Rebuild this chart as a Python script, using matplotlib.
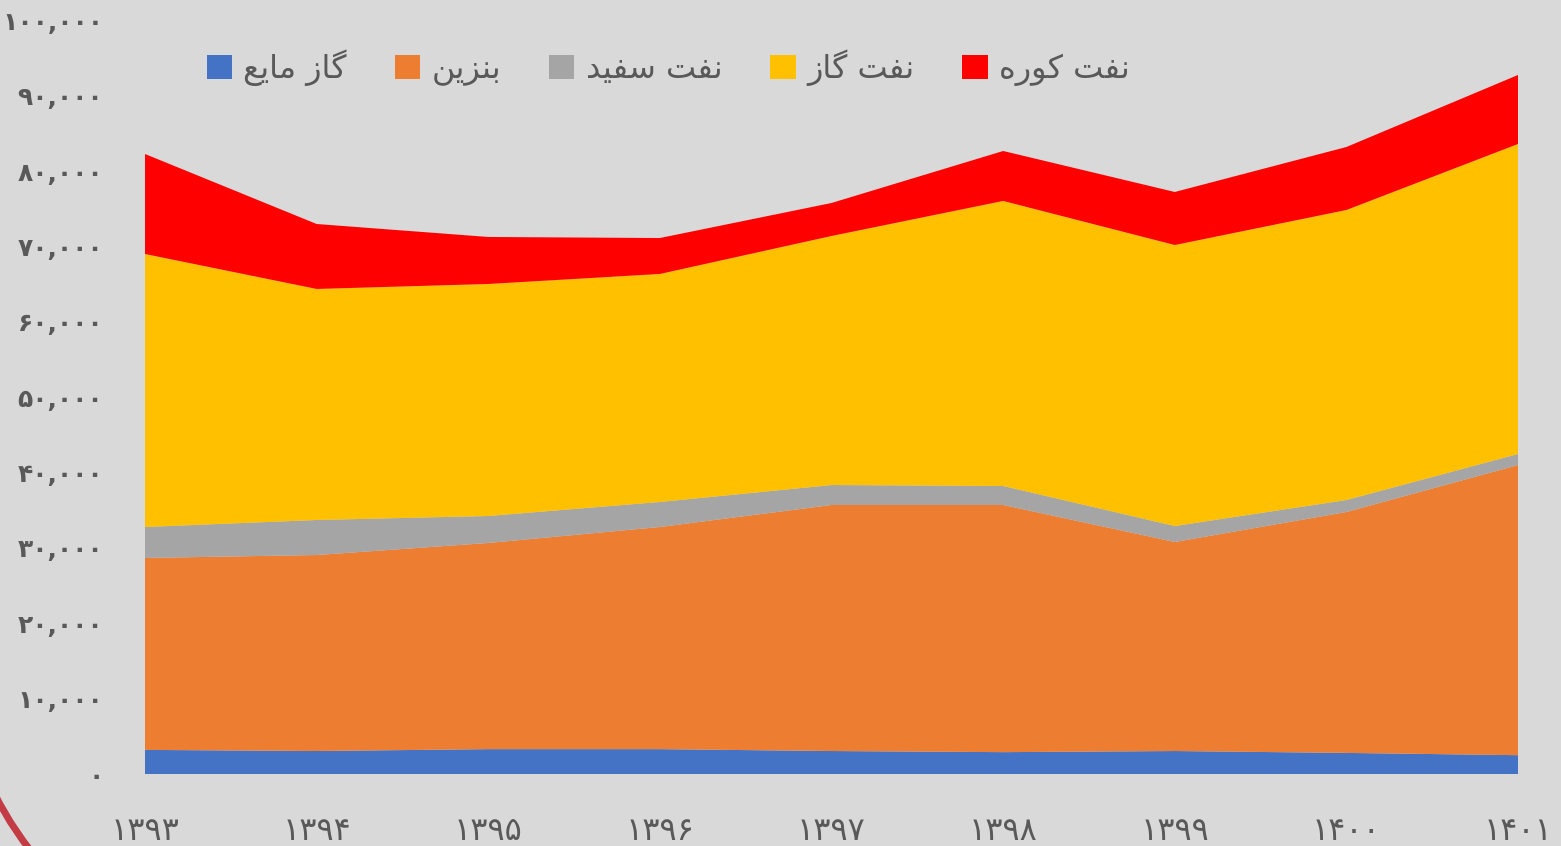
import matplotlib
matplotlib.use("Agg")
import matplotlib.pyplot as plt
from matplotlib.patches import Arc, Patch
from matplotlib.ticker import FuncFormatter

years = [1393, 1394, 1395, 1396, 1397, 1398, 1399, 1400, 1401]
lpg = [3200, 3050, 3300, 3300, 3050, 2900, 3050, 2800, 2500]
gasoline = [25470, 26010, 27360, 29480, 32650, 32800, 27740, 31970, 38500]
kerosene = [4110, 4650, 3580, 3320, 2650, 2520, 2120, 1590, 1470]
gasoil = [36230, 30660, 30790, 30260, 33050, 37830, 37290, 38490, 41140]
fuel_oil = [13270, 8620, 6240, 4770, 4380, 6630, 7040, 8360, 9160]

labels = ["گاز مایع", "بنزین", "نفت سفید", "نفت گاز", "نفت کوره"]
colors = ["#4472C4", "#ED7D31", "#A5A5A5", "#FFC000", "#FF0000"]

BG = "#D9D9D9"
TXT = "#595959"

# matplotlib has no arabic shaping, so pick presentation forms by hand
# (isolated, final, initial, medial); right-joining letters have only two
FORMS = {
    "ا": "\uFE8D\uFE8E", "ب": "\uFE8F\uFE90\uFE91\uFE92",
    "ت": "\uFE95\uFE96\uFE97\uFE98", "د": "\uFEA9\uFEAA",
    "ر": "\uFEAD\uFEAE", "ز": "\uFEAF\uFEB0",
    "س": "\uFEB1\uFEB2\uFEB3\uFEB4", "ع": "\uFEC9\uFECA\uFECB\uFECC",
    "ف": "\uFED1\uFED2\uFED3\uFED4", "م": "\uFEE1\uFEE2\uFEE3\uFEE4",
    "ن": "\uFEE5\uFEE6\uFEE7\uFEE8", "ه": "\uFEE9\uFEEA\uFEEB\uFEEC",
    "و": "\uFEED\uFEEE", "ک": "\uFB8E\uFB8F\uFB90\uFB91",
    "گ": "\uFB92\uFB93\uFB94\uFB95", "ی": "\uFBFC\uFBFD\uFBFE\uFBFF",
}


def shape(word):
    out = []
    for i, ch in enumerate(word):
        if ch not in FORMS:
            out.append(ch)
            continue
        prev = word[i - 1] if i > 0 else ""
        nxt = word[i + 1] if i + 1 < len(word) else ""
        join_prev = prev in FORMS and len(FORMS[prev]) == 4
        join_next = nxt in FORMS and len(FORMS[ch]) == 4
        f = FORMS[ch]
        if join_prev and join_next:
            out.append(f[3])
        elif join_prev:
            out.append(f[1])
        elif join_next:
            out.append(f[2])
        else:
            out.append(f[0])
    return "".join(out)


def rtl(text):
    return " ".join(shape(w)[::-1] for w in text.split(" ")[::-1])


FA_DIGITS = str.maketrans("0123456789", "۰۱۲۳۴۵۶۷۸۹")


def fa_num(v, pos=None):
    return f"{int(round(v)):,}".translate(FA_DIGITS)


plt.rcParams["font.family"] = ["DejaVu Sans"]

fig = plt.figure(figsize=(15.61, 8.46), dpi=100)
fig.patch.set_facecolor(BG)
ax = fig.add_axes([0.0929, 0.0851, 0.8796, 0.8907])
ax.set_facecolor(BG)

ax.stackplot(years, lpg, gasoline, kerosene, gasoil, fuel_oil,
             colors=colors, linewidth=0)

ax.set_xlim(years[0], years[-1])
ax.set_ylim(0, 100000)
ax.set_yticks(range(0, 100001, 10000))
ax.set_xticks(years)
ax.yaxis.set_major_formatter(FuncFormatter(fa_num))
ax.set_xticklabels([str(y).translate(FA_DIGITS) for y in years])

for s in ax.spines.values():
    s.set_visible(False)
ax.tick_params(axis="y", length=0, pad=30, labelsize=18, labelcolor=TXT)
ax.tick_params(axis="x", length=0, pad=30, labelsize=23, labelcolor=TXT)
for t in ax.get_yticklabels():
    t.set_fontweight("bold")

handles = [Patch(facecolor=c, edgecolor="none") for c in colors]
fig.legend(handles, [rtl(l) for l in labels], loc="center",
           bbox_to_anchor=(668 / 1561, 1 - 68 / 846), ncol=5, frameon=False,
           fontsize=23, labelcolor=TXT, handlelength=0.8, handleheight=0.8,
           handletextpad=0.35, columnspacing=1.5)

# decorative arc in the lower-left corner of the slide
fig.add_artist(Arc((300 / 1561, 206 / 846), 2 * 342 / 1561, 2 * 342 / 846,
                   theta1=195, theta2=235,
                   transform=fig.transFigure, color="#C23B45", lw=5))

fig.savefig("out.png", dpi=100, facecolor=BG)
